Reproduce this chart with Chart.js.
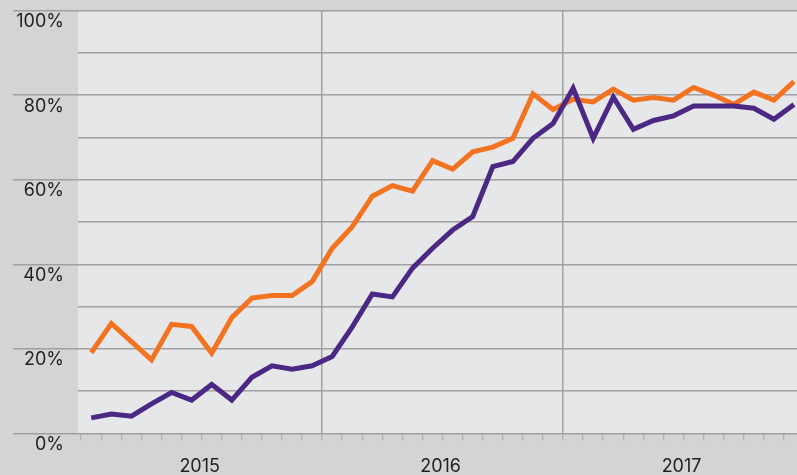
<!DOCTYPE html>
<html>
<head>
<meta charset="utf-8">
<script src="https://cdn.jsdelivr.net/npm/chart.js@4/dist/chart.umd.min.js"></script>
<style>
  html, body { margin: 0; padding: 0; background: #d3d4d6; }
  #c { display: block; }
</style>
</head>
<body>
<canvas id="c" width="797" height="475"></canvas>
<script>
// ---- data ----
const months = [
  'Jan 2015','Feb 2015','Mar 2015','Apr 2015','May 2015','Jun 2015','Jul 2015','Aug 2015','Sep 2015','Oct 2015','Nov 2015','Dec 2015',
  'Jan 2016','Feb 2016','Mar 2016','Apr 2016','May 2016','Jun 2016','Jul 2016','Aug 2016','Sep 2016','Oct 2016','Nov 2016','Dec 2016',
  'Jan 2017','Feb 2017','Mar 2017','Apr 2017','May 2017','Jun 2017','Jul 2017','Aug 2017','Sep 2017','Oct 2017','Nov 2017','Dec 2017'
];
const years = ['2015', '2016', '2017'];
const orangeSeries = [
  19.1, 26.0, 21.7, 17.4, 25.8, 25.3, 19.0, 27.4, 32.0, 32.6, 32.6, 35.9,
  43.8, 48.9, 56.1, 58.6, 57.3, 64.5, 62.5, 66.6, 67.7, 69.8, 80.3, 76.6,
  79.0, 78.4, 81.4, 78.8, 79.4, 78.8, 81.8, 80.0, 77.8, 80.7, 78.8, 83.2
];
const purpleSeries = [
  3.7, 4.6, 4.1, 7.0, 9.7, 7.9, 11.6, 7.9, 13.3, 16.0, 15.2, 16.0,
  18.2, 25.2, 33.0, 32.3, 39.1, 43.8, 48.1, 51.3, 63.1, 64.3, 69.8, 73.3,
  81.6, 69.8, 79.5, 71.9, 74.0, 75.1, 77.4, 77.4, 77.4, 76.9, 74.3, 77.8
];
const yTicks = [0, 10, 20, 30, 40, 50, 60, 70, 80, 90, 100];

// ---- build ----
const toPoints = arr => arr.map((v, i) => ({ x: i, y: v }));
const GRID = '#a0a0a0';
const FONT = { family: 'Inter, "DejaVu Sans", sans-serif', size: 18, weight: '400' };

const plotBg = {
  id: 'plotBg',
  beforeDraw(chart) {
    const { ctx, chartArea: a } = chart;
    ctx.save();
    ctx.fillStyle = '#e6e7e9';
    ctx.fillRect(a.left, a.top, a.right - a.left, a.bottom - a.top);
    ctx.restore();
  }
};

new Chart(document.getElementById('c'), {
  type: 'line',
  data: {
    datasets: [
      {
        label: 'Purple',
        data: toPoints(purpleSeries),
        borderColor: '#4b2884',
        borderWidth: 5,
        pointRadius: 0,
        tension: 0,
        borderJoinStyle: 'miter',
        order: 0
      },
      {
        label: 'Orange',
        data: toPoints(orangeSeries),
        borderColor: '#f47321',
        borderWidth: 5,
        pointRadius: 0,
        tension: 0,
        borderJoinStyle: 'miter',
        order: 1
      }
    ]
  },
  options: {
    responsive: false,
    animation: false,
    events: [],
    layout: { padding: { top: 10.5, right: 0, bottom: 0, left: 0 } },
    plugins: { legend: { display: false }, tooltip: { enabled: false } },
    scales: {
      x: {
        type: 'linear',
        min: -0.66,
        max: 35.15,
        afterBuildTicks(scale) {
          scale.ticks = months.map((m, i) => ({ value: i - 0.5 }));
        },
        afterFit(scale) {
          scale.height = 41.5;
          scale.paddingLeft = 0;
          scale.paddingRight = 0;
        },
        border: { display: false },
        grid: {
          drawTicks: true,
          tickLength: 7,
          lineWidth: 1.5,
          tickWidth: 1,
          color: c => (c.tick && ((c.tick.value + 0.5) % 12 === 0) && c.tick.value > 0) ? GRID : 'rgba(0,0,0,0)',
          tickColor: '#a8a8a8'
        },
        ticks: {
          autoSkip: false,
          maxRotation: 0,
          padding: 15,
          labelOffset: -2,
          color: '#231f20',
          font: FONT,
          callback: (v, i) => (i % 12 === 6) ? years[Math.floor(i / 12)] : ''
        }
      },
      y: {
        min: 0,
        max: 100,
        afterBuildTicks(scale) {
          scale.ticks = yTicks.map(v => ({ value: v }));
        },
        afterFit(scale) {
          scale.width = 78;
          scale.paddingTop = 0;
          scale.paddingBottom = 0;
        },
        border: { display: false },
        grid: {
          drawTicks: true,
          tickLength: 65,
          lineWidth: 1.5,
          tickWidth: 1.5,
          color: GRID,
          tickColor: c => (c.tick && c.tick.value % 20 === 0) ? GRID : 'rgba(0,0,0,0)'
        },
        ticks: {
          autoSkip: false,
          padding: -51,
          labelOffset: 11,
          color: '#231f20',
          font: FONT,
          callback: v => (v % 20 === 0) ? v + '%' : ''
        }
      }
    }
  },
  plugins: [plotBg]
});
</script>
</body>
</html>
